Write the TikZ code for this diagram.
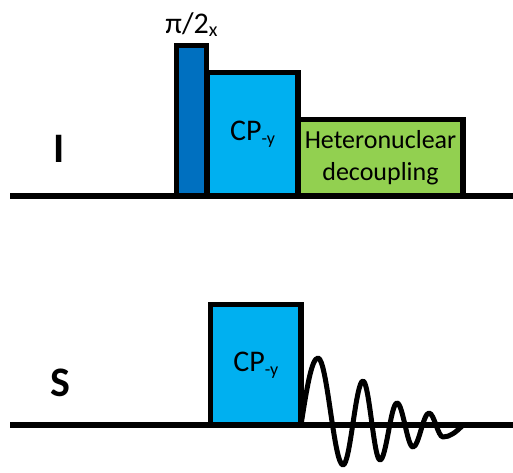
\documentclass[tikz,border=0pt]{standalone}
\usepackage{fontspec}
\setmainfont{Carlito}
\definecolor{pdark}{HTML}{0070C0}
\definecolor{cpblue}{HTML}{00B0F0}
\definecolor{decgreen}{HTML}{92D050}
\newcommand{\lowsub}[2]{\raisebox{-#2}{\fontsize{18}{18}\selectfont #1}}
\tikzset{
  pulsebox/.style={draw=black, line width=5.5pt, inner sep=0pt, outer sep=0pt,
    anchor=south west, font=\fontsize{30}{32}\selectfont, align=center},
  axisline/.style={line width=5.5pt},
  chanlabel/.style={font=\bfseries\fontsize{42}{42}\selectfont, anchor=base, inner sep=0pt},
  toplabel/.style={font=\fontsize{30}{30}\selectfont, anchor=base, inner sep=0pt},
  fidline/.style={line width=5pt, line join=round, line cap=round}
}
\begin{document}
\begin{tikzpicture}[x=1pt,y=1pt]
\useasboundingbox (0,0) rectangle (513,472);
% channel axes
\coordinate (iL) at (10,276);
\coordinate (iR) at (513,276);
\coordinate (sL) at (10,47);
\coordinate (sR) at (513,47);
\draw[axisline] (iL) -- (iR);
\draw[axisline] (sL) -- (sR);
% I channel
\node[pulsebox, fill=pdark, minimum width=30pt, minimum height=150.5pt] (p90) at (176.5,276) {};
\node[pulsebox, fill=cpblue, minimum width=91pt, minimum height=123.5pt] (cpI) at (207,276) {CP\lowsub{-y}{4pt}};
\node[pulsebox, fill=decgreen, minimum width=165pt, minimum height=76.5pt,
      font=\fontsize{26}{32}\selectfont] (dec) at (298,276) {Heteronuclear\\decoupling};
\node[toplabel] (plab) at ([yshift=11.5pt]p90.north) {π/2\raisebox{-3pt}{\fontsize{20}{20}\selectfont x}};
% S channel
\node[pulsebox, fill=cpblue, minimum width=90.5pt, minimum height=120.5pt] (cpS) at (210.5,47) {CP\lowsub{-y}{4pt}};
% labels
\node[chanlabel] (ilab) at (59.5,310) {I};
\node[chanlabel] (slab) at (60,76) {S};
% FID
\draw[fidline] (cpS.south east)
  .. controls (306.5,82) and (311.5,114) .. (318,114)
  .. controls (327.1,114) and (333.9,7) .. (343,7)
  .. controls (350.3,7) and (355.7,91) .. (363,91)
  .. controls (369.2,91) and (373.8,12) .. (380,12)
  .. controls (386.2,12) and (390.8,69) .. (397,69)
  .. controls (402.8,69) and (407.2,25) .. (413,25)
  .. controls (418.8,25) and (423.2,59) .. (429,59)
  .. controls (434.1,59) and (437.9,35) .. (443,35)
  .. controls (450,35) and (456,40) .. (462,46);
\end{tikzpicture}
\end{document}
